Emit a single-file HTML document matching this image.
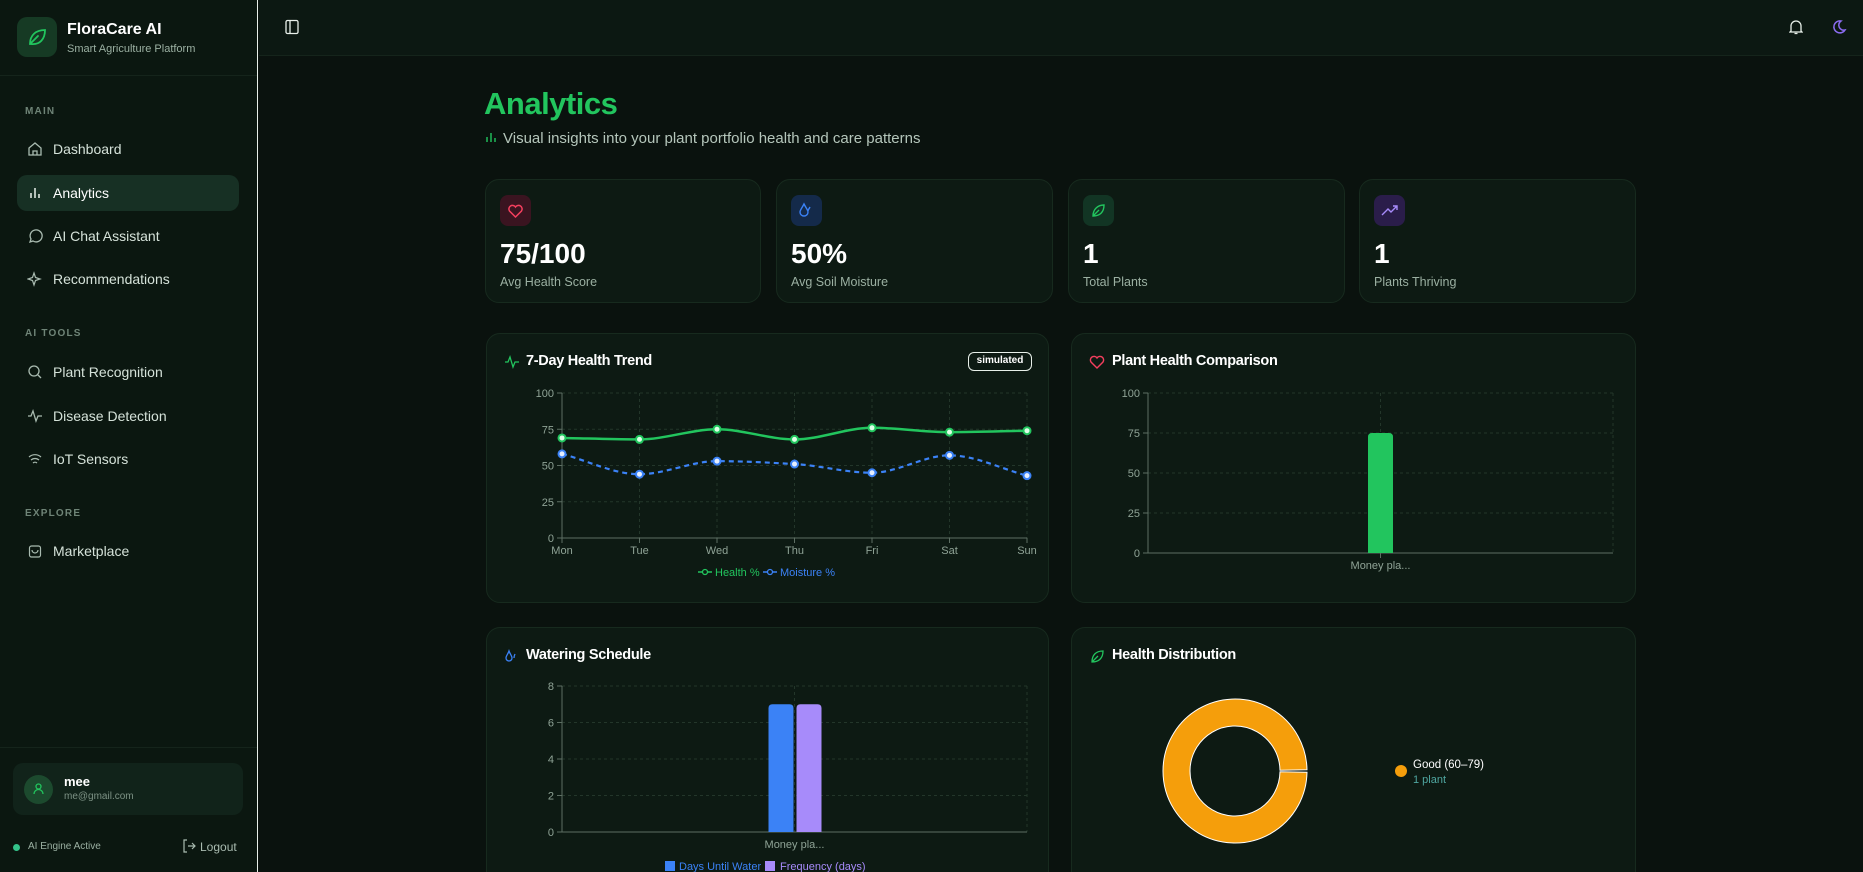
<!DOCTYPE html>
<html style="width:1863px;height:872px;overflow:hidden"><head><meta charset="utf-8">
<style>
*{box-sizing:border-box;margin:0;padding:0}
body{width:1863px;height:872px;overflow:hidden;background:#0a120e;font-family:"Liberation Sans",sans-serif;color:#e8f0ea;position:relative}
.abs{position:absolute}
#sidebar{left:0;top:0;width:258px;height:872px;background:#0b1710;border-right:1px solid #e8efe9}
.nav{position:absolute;left:17px;width:222px;height:36px;border-radius:10px;font-size:14px;color:#d5e2d9}
.nav span{position:absolute;left:36px;top:10px}
.nav svg{position:absolute;left:10px;top:10px}
.sec{position:absolute;left:25px;font-size:10px;letter-spacing:1.2px;color:#6f8477;font-weight:bold}
#header{left:259px;top:0;width:1604px;height:56px;background:#0c1812;border-bottom:1px solid #15241b}
.card{position:absolute;background:#0d1a13;border:1px solid #172a1e;border-radius:14px}
.stat .ib{position:absolute;left:14px;top:15px;width:31px;height:31px;border-radius:8px}
.stat .v{position:absolute;left:14px;top:58px;font-size:28px;font-weight:bold;color:#fff}
.stat .l{position:absolute;left:14px;top:95px;font-size:12.5px;color:#9bb0a2}
.ct{position:absolute;font-size:14.5px;font-weight:bold;color:#fff;letter-spacing:-0.3px}
svg text{font-family:"Liberation Sans",sans-serif}
</style></head><body>

<div id="sidebar" class="abs">
  <div class="abs" style="left:17px;top:17px;width:40px;height:40px;border-radius:10px;background:#163a24">
    <svg width="40" height="40" viewBox="0 0 40 40"><path d="M13 27c0-9 6-14 15-14 0 9-5 15-14 14zM13 27l8-8" stroke="#22c55e" stroke-width="1.8" fill="none" stroke-linecap="round"/></svg>
  </div>
  <div class="abs" style="left:67px;top:21px;font-size:16px;font-weight:bold;color:#fff">FloraCare AI</div>
  <div class="abs" style="left:67px;top:43px;font-size:11px;color:#9bb0a2">Smart Agriculture Platform</div>
  <div class="abs" style="left:0;top:75px;width:257px;height:1px;background:#15241b"></div>
  <div class="sec" style="top:106px">MAIN</div>
  <div class="nav" style="top:131px"><svg width="16" height="16" viewBox="0 0 16 16"><path d="M2 7l6-5 6 5v7H2z M6 14v-4h4v4" stroke="#a9bbb0" stroke-width="1.3" fill="none"/></svg><span>Dashboard</span></div>
  <div class="nav" style="top:175px;background:#173024"><svg width="16" height="16" viewBox="0 0 16 16"><path d="M4 13V8M8 13V3M12 13V9" stroke="#e8f0ea" stroke-width="1.5"/></svg><span style="color:#fff">Analytics</span></div>
  <div class="nav" style="top:218px"><svg width="16" height="16" viewBox="0 0 16 16"><path d="M3 14l1-3a6 6 0 1 1 2 2z" stroke="#a9bbb0" stroke-width="1.3" fill="none"/></svg><span>AI Chat Assistant</span></div>
  <div class="nav" style="top:261px"><svg width="16" height="16" viewBox="0 0 16 16"><path d="M7 2l1.5 4.5L13 8l-4.5 1.5L7 14l-1.5-4.5L1 8l4.5-1.5z" stroke="#a9bbb0" stroke-width="1.2" fill="none"/></svg><span>Recommendations</span></div>
  <div class="sec" style="top:328px">AI TOOLS</div>
  <div class="nav" style="top:354px"><svg width="16" height="16" viewBox="0 0 16 16"><circle cx="7" cy="7" r="5" stroke="#a9bbb0" stroke-width="1.3" fill="none"/><path d="M11 11l3 3" stroke="#a9bbb0" stroke-width="1.3"/></svg><span>Plant Recognition</span></div>
  <div class="nav" style="top:398px"><svg width="16" height="16" viewBox="0 0 16 16"><path d="M1 8h3l2-5 3 10 2-5h4" stroke="#a9bbb0" stroke-width="1.3" fill="none"/></svg><span>Disease Detection</span></div>
  <div class="nav" style="top:441px"><svg width="16" height="16" viewBox="0 0 16 16"><path d="M2 6a9 9 0 0 1 12 0M4 9a6 6 0 0 1 8 0M6 12a3 3 0 0 1 4 0" stroke="#a9bbb0" stroke-width="1.2" fill="none"/></svg><span>IoT Sensors</span></div>
  <div class="sec" style="top:508px">EXPLORE</div>
  <div class="nav" style="top:533px"><svg width="16" height="16" viewBox="0 0 16 16"><rect x="2.5" y="3" width="11" height="11" rx="2" stroke="#a9bbb0" stroke-width="1.2" fill="none"/><path d="M5 7a3 3 0 0 0 6 0" stroke="#a9bbb0" stroke-width="1.2" fill="none"/></svg><span>Marketplace</span></div>
  <div class="abs" style="left:0;top:747px;width:257px;height:1px;background:#15241b"></div>
  <div class="abs" style="left:13px;top:763px;width:230px;height:52px;border-radius:10px;background:#11231a">
    <div class="abs" style="left:11px;top:12px;width:29px;height:29px;border-radius:50%;background:#1c4a2e"><svg width="29" height="29" viewBox="0 0 29 29"><circle cx="14.5" cy="11.5" r="2.5" stroke="#22c55e" stroke-width="1.3" fill="none"/><path d="M10 19a4.5 4.5 0 0 1 9 0" stroke="#22c55e" stroke-width="1.3" fill="none"/></svg></div>
    <div class="abs" style="left:51px;top:11px;font-size:13px;font-weight:bold;color:#fff">mee</div>
    <div class="abs" style="left:51px;top:28px;font-size:10px;color:#7d9285">me@gmail.com</div>
  </div>
  <div class="abs" style="left:13px;top:844px;width:7px;height:7px;border-radius:50%;background:#34c38a"></div>
  <div class="abs" style="left:28px;top:841px;font-size:10px;color:#9bb0a2">AI Engine Active</div>
  <div class="abs" style="left:182px;top:839px;font-size:12px;color:#a9bbb0"><svg width="14" height="14" viewBox="0 0 14 14" style="vertical-align:-2px;margin-right:4px"><path d="M5 1H2v12h3M6 7h7M10 4l3 3-3 3" stroke="#a9bbb0" stroke-width="1.2" fill="none"/></svg>Logout</div>
</div>

<div id="header" class="abs">
  <svg class="abs" style="left:26px;top:19px" width="14" height="16" viewBox="0 0 14 16"><rect x="1" y="1.5" width="12" height="13" rx="1.5" stroke="#e8f0ea" stroke-width="1.3" fill="none"/><path d="M5 2v12" stroke="#e8f0ea" stroke-width="1.3"/></svg>
  <svg class="abs" style="left:1530px;top:19px" width="14" height="16" viewBox="0 0 14 16"><path d="M2 12V7a5 5 0 0 1 10 0v5l1 1H1z M5.5 14.5h3" stroke="#e8f0ea" stroke-width="1.3" fill="none"/></svg>
  <svg class="abs" style="left:1572px;top:19px" width="16" height="16" viewBox="0 0 16 16"><path d="M10 2a6 6 0 1 0 4 9A5 5 0 0 1 10 2z" stroke="#8b6cf0" stroke-width="1.5" fill="none"/></svg>
</div>

<div class="abs" style="left:484px;top:86px;font-size:31px;font-weight:bold;color:#22c55e;letter-spacing:-0.5px">Analytics</div>
<div class="abs" style="left:485px;top:130px;font-size:15px;color:#b5c6bb"><svg width="12" height="12" viewBox="0 0 12 12" style="margin-right:6px"><path d="M2 11V6M6 11V2M10 11V7" stroke="#22c55e" stroke-width="1.4"/></svg>Visual insights into your plant portfolio health and care patterns</div>

<div class="card stat" style="left:485px;top:179px;width:276px;height:124px"><div class="ib" style="background:#3a1420"><svg width="31" height="31" viewBox="0 0 31 31"><path d="M15.5 22l-6-6a3.5 3.5 0 0 1 6-4 3.5 3.5 0 0 1 6 4z" stroke="#f43f5e" stroke-width="1.5" fill="none"/></svg></div><div class="v">75/100</div><div class="l">Avg Health Score</div></div>
<div class="card stat" style="left:776px;top:179px;width:277px;height:124px"><div class="ib" style="background:#142a4a"><svg width="31" height="31" viewBox="0 0 31 31"><path d="M13 9c-2 4-4 6-4 8a4 4 0 0 0 8 0c0-2-2-4-4-8zM19 12c-1 2-2 3-2 4" stroke="#3b82f6" stroke-width="1.4" fill="none"/></svg></div><div class="v">50%</div><div class="l">Avg Soil Moisture</div></div>
<div class="card stat" style="left:1068px;top:179px;width:277px;height:124px"><div class="ib" style="background:#123524"><svg width="31" height="31" viewBox="0 0 31 31"><path d="M10 21c0-7 5-11 11-11 0 7-4 11-11 11zM10 21l6-6" stroke="#22c55e" stroke-width="1.4" fill="none"/></svg></div><div class="v">1</div><div class="l">Total Plants</div></div>
<div class="card stat" style="left:1359px;top:179px;width:277px;height:124px"><div class="ib" style="background:#2a1d4a"><svg width="31" height="31" viewBox="0 0 31 31"><path d="M8 20l6-6 3 3 6-6M19 11h4v4" stroke="#a78bfa" stroke-width="1.4" fill="none"/></svg></div><div class="v">1</div><div class="l">Plants Thriving</div></div>

<div class="card" style="left:486px;top:333px;width:563px;height:270px">
  <svg class="abs" style="left:17px;top:21px" width="16" height="14" viewBox="0 0 16 14"><path d="M1 7h3l2-5 3 10 2-5h4" stroke="#22c55e" stroke-width="1.3" fill="none"/></svg>
  <div class="ct" style="left:39px;top:19px">7-Day Health Trend</div>
  <div class="abs" style="left:481px;top:18px;width:64px;height:19px;border:1.3px solid #e8f0ea;border-radius:6px;font-size:10px;font-weight:bold;text-align:center;line-height:16px;color:#fff">simulated</div>
</div>
<div class="card" style="left:1071px;top:333px;width:565px;height:270px">
  <svg class="abs" style="left:17px;top:21px" width="16" height="14" viewBox="0 0 16 14"><path d="M8 13L2 7a3.3 3.3 0 0 1 6-4 3.3 3.3 0 0 1 6 4z" stroke="#f43f5e" stroke-width="1.4" fill="none"/></svg>
  <div class="ct" style="left:40px;top:19px">Plant Health Comparison</div>
</div>
<div class="card" style="left:486px;top:627px;width:563px;height:245px;border-bottom:none;border-bottom-left-radius:0;border-bottom-right-radius:0">
  <svg class="abs" style="left:17px;top:21px" width="16" height="14" viewBox="0 0 16 14"><path d="M5 2C4 5 2 7 2 9a3 3 0 0 0 6 0c0-2-2-4-3-7zM11 5c-1 2-1 3-1 4" stroke="#3b82f6" stroke-width="1.3" fill="none"/></svg>
  <div class="ct" style="left:39px;top:19px">Watering Schedule</div>
</div>
<div class="card" style="left:1071px;top:627px;width:565px;height:245px;border-bottom:none;border-bottom-left-radius:0;border-bottom-right-radius:0">
  <svg class="abs" style="left:17px;top:21px" width="16" height="14" viewBox="0 0 16 14"><path d="M3 13c0-7 4-11 11-11 0 7-4 11-11 11zM3 13l6-6" stroke="#22c55e" stroke-width="1.3" fill="none"/></svg>
  <div class="ct" style="left:40px;top:19px">Health Distribution</div>
</div>

<svg id="charts" class="abs" style="left:0;top:0" width="1863" height="872"></svg>

<script>
const days = ["Mon","Tue","Wed","Thu","Fri","Sat","Sun"];
const healthVals = [69,68,75,68,76,73,74];
const moistureVals = [58,44,53,51,45,57,43];
const trendTicks = [0,25,50,75,100];
const plantNames = ["Money pla..."];
const plantHealth = [75];
const healthTicks = [0,25,50,75,100];
const daysUntilWater = [7];
const frequencyDays = [7];
const waterTicks = [0,2,4,6,8];
const distLabels = ["Good (60–79)"];
const distCounts = [1];

const NS="http://www.w3.org/2000/svg";
const svg=document.getElementById('charts');
function mk(tag,attrs,parent){const e=document.createElementNS(NS,tag);for(const k in attrs)e.setAttribute(k,attrs[k]);(parent||svg).appendChild(e);return e;}
function txt(x,y,s,attrs){const t=mk('text',Object.assign({x:x,y:y,'font-size':11,fill:'#8fa396'},attrs||{}));t.textContent=s;return t;}

function axesGrid(L,R,T,B,ticks,yMax,xs,name){
  const ys=v=>B-(v/yMax)*(B-T);
  ticks.forEach(v=>{
    if(v>0){const g=mk('line',{x1:L,x2:R,y1:ys(v),y2:ys(v),stroke:'#23362a','stroke-dasharray':'3 3'});
    
    }
    mk('line',{x1:L-5,x2:L,y1:ys(v),y2:ys(v),stroke:'#5d6e63'});
    const t=txt(L-8,ys(v)+4,String(v),{'text-anchor':'end'});
    
    
  });
  xs.forEach(x=>{mk('line',{x1:x,x2:x,y1:T,y2:B,stroke:'#23362a','stroke-dasharray':'3 3'});});
  mk('line',{x1:R,x2:R,y1:T,y2:B,stroke:'#23362a','stroke-dasharray':'3 3'});
  mk('line',{x1:L,x2:L,y1:T,y2:B,stroke:'#5d6e63'});
  mk('line',{x1:L,x2:R,y1:B,y2:B,stroke:'#5d6e63'});
  return ys;
}
function monotone(pts){
  const n=pts.length,d=[],m=[];
  for(let i=0;i<n-1;i++)d.push((pts[i+1][1]-pts[i][1])/(pts[i+1][0]-pts[i][0]));
  m[0]=d[0];m[n-1]=d[n-2];
  for(let i=1;i<n-1;i++)m[i]=(d[i-1]*d[i]<=0)?0:2/(1/d[i-1]+1/d[i]);
  let p='M'+pts[0][0]+','+pts[0][1];
  for(let i=0;i<n-1;i++){const h=(pts[i+1][0]-pts[i][0])/3;
    p+=' C'+(pts[i][0]+h)+','+(pts[i][1]+m[i]*h)+' '+(pts[i+1][0]-h)+','+(pts[i+1][1]-m[i+1]*h)+' '+pts[i+1][0]+','+pts[i+1][1];}
  return p;
}

(function(){
  const L=562,R=1027,T=393,B=538;
  const xs=i=>L+i*(R-L)/(days.length-1);
  const ys=axesGrid(L,R,T,B,trendTicks,100,days.map((d,i)=>xs(i)),'trend');
  days.forEach((d,i)=>{mk('line',{x1:xs(i),x2:xs(i),y1:B,y2:B+5,stroke:'#5d6e63'});
    const t=txt(xs(i),B+16,d,{'text-anchor':'middle'});
    
    });
  const hp=mk('path',{d:monotone(healthVals.map((v,i)=>[xs(i),ys(v)])),stroke:'#22c55e','stroke-width':2.5,fill:'none'});
  
  
  const mp=mk('path',{d:monotone(moistureVals.map((v,i)=>[xs(i),ys(v)])),stroke:'#3b82f6','stroke-width':2.2,fill:'none','stroke-dasharray':'5 4'});
  
  
  healthVals.forEach((v,i)=>{const c=mk('circle',{cx:xs(i),cy:ys(v),r:3.5,fill:'#dfffe8',stroke:'#22c55e','stroke-width':2});
    
    });
  moistureVals.forEach((v,i)=>{const c=mk('circle',{cx:xs(i),cy:ys(v),r:3.5,fill:'#e6efff',stroke:'#3b82f6','stroke-width':2});
    
    });
  const ly=572;
  mk('line',{x1:698,x2:712,y1:ly,y2:ly,stroke:'#22c55e','stroke-width':1.5});
  mk('circle',{cx:705,cy:ly,r:2.5,fill:'#0d1a13',stroke:'#22c55e','stroke-width':1.3});
  const l1=txt(715,ly+4,'Health %',{fill:'#22c55e'});
  
  
  mk('line',{x1:763,x2:777,y1:ly,y2:ly,stroke:'#3b82f6','stroke-width':1.5});
  mk('circle',{cx:770,cy:ly,r:2.5,fill:'#0d1a13',stroke:'#3b82f6','stroke-width':1.3});
  const l2=txt(780,ly+4,'Moisture %',{fill:'#3b82f6'});
  
  
})();

(function(){
  const L=1148,R=1613,T=393,B=553;
  const band=(R-L)/plantNames.length;
  const xc=i=>L+band*(i+0.5);
  const ys=axesGrid(L,R,T,B,healthTicks,100,plantNames.map((p,i)=>xc(i)),'health');
  plantHealth.forEach((v,i)=>{
    const w=25,y=ys(v);
    const b=mk('path',{d:`M${xc(i)-w/2},${B} V${y+4} Q${xc(i)-w/2},${y} ${xc(i)-w/2+4},${y} H${xc(i)+w/2-4} Q${xc(i)+w/2},${y} ${xc(i)+w/2},${y+4} V${B} Z`,fill:'#22c55e'});
    
    
    mk('line',{x1:xc(i),x2:xc(i),y1:B,y2:B+5,stroke:'#5d6e63'});
    const t=txt(xc(i),B+16,plantNames[i],{'text-anchor':'middle'});
    
    
  });
})();

(function(){
  const L=562,R=1027,T=686,B=832;
  const band=(R-L)/plantNames.length;
  const xc=i=>L+band*(i+0.5);
  const ys=axesGrid(L,R,T,B,waterTicks,8,plantNames.map((p,i)=>xc(i)),'water');
  function bar(x,v,color,name){const w=25,y=ys(v);
    const b=mk('path',{d:`M${x},${B} V${y+4} Q${x},${y} ${x+4},${y} H${x+w-4} Q${x+w},${y} ${x+w},${y+4} V${B} Z`,fill:color});
    
    }
  plantNames.forEach((p,i)=>{
    bar(xc(i)-26,daysUntilWater[i],'#3b82f6','days-until-water-bar');
    bar(xc(i)+2,frequencyDays[i],'#a78bfa','frequency-bar');
    const t=txt(xc(i),B+16,p,{'text-anchor':'middle'});
    
    
  });
  mk('rect',{x:665,y:861,width:10,height:10,fill:'#3b82f6'});
  const a=txt(679,870,'Days Until Water',{fill:'#3b82f6'});
  
  
  mk('rect',{x:765,y:861,width:10,height:10,fill:'#a78bfa'});
  const b2=txt(780,870,'Frequency (days)',{fill:'#a78bfa'});
  
  
})();

(function(){
  const cx=1235,cy=771,ro=72,ri=45;
  const total=distCounts.reduce((a,b)=>a+b,0);
  const pad=0.035;
  let a0=0;
  const colors=['#f59e0b','#22c55e','#ef4444','#3b82f6'];
  distCounts.forEach((c,i)=>{
    const sweep=c/total*Math.PI*2;
    const s=a0+pad/2,e=a0+sweep-pad/2;
    const P=(r,a)=>[cx+r*Math.cos(-a),cy+r*Math.sin(-a)];
    const [x1,y1]=P(ro,s),[x2,y2]=P(ro,e),[x3,y3]=P(ri,e),[x4,y4]=P(ri,s);
    const large=(e-s)>Math.PI?1:0;
    const p=mk('path',{d:`M${x1},${y1} A${ro},${ro} 0 ${large} 0 ${x2},${y2} L${x3},${y3} A${ri},${ri} 0 ${large} 1 ${x4},${y4} Z`,fill:colors[i],stroke:'#ffffff','stroke-width':1});
    
    
    a0+=sweep;
    const ly=cy-8+i*40;
    mk('circle',{cx:1401,cy:ly+8,r:6,fill:colors[i]});
    const t=txt(1413,ly+5,distLabels[i],{fill:'#ffffff','font-size':11.5});
    
    
    const t2=txt(1413,ly+20,distCounts[i]+(distCounts[i]===1?' plant':' plants'),{fill:'#4fa6a0','font-size':11});
    
    
  });
})();
</script>
</body></html>
